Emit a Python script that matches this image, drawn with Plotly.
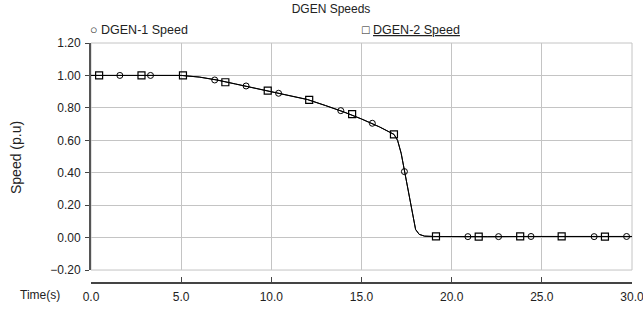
import plotly.graph_objects as go

# Continuous curve (both generators follow nearly the same trajectory)
t_curve = [0.0, 5.0, 6.0, 7.0, 8.0, 9.0, 10.0, 11.0, 12.0, 13.0, 14.0, 15.0, 16.0, 16.8,
           17.0, 17.2, 17.4, 17.6, 17.8, 18.0, 18.2, 18.5, 19.0, 20.0, 22.0, 24.0, 26.0, 28.0, 30.0]
dgen1_curve = [1.0, 1.0, 0.99, 0.972, 0.948, 0.925, 0.9, 0.875, 0.852, 0.815, 0.776, 0.732, 0.683, 0.637,
               0.6, 0.52, 0.40, 0.29, 0.15, 0.05, 0.02, 0.009, 0.007, 0.006, 0.006, 0.007, 0.006, 0.006, 0.007]
dgen2_curve = [1.0, 1.0, 0.99, 0.971, 0.947, 0.924, 0.9, 0.874, 0.851, 0.814, 0.775, 0.731, 0.682, 0.636,
               0.6, 0.52, 0.40, 0.29, 0.15, 0.05, 0.02, 0.009, 0.007, 0.006, 0.006, 0.007, 0.006, 0.006, 0.007]

# Marker positions
t1_marks = [1.6, 3.3, 6.86, 8.6, 10.4, 13.85, 15.6, 17.38, 20.9, 22.6, 24.4, 27.9, 29.7]
dgen1_marks = [1.0, 1.0, 0.972, 0.935, 0.89, 0.783, 0.705, 0.407, 0.006, 0.006, 0.007, 0.006, 0.007]
t2_marks = [0.45, 2.8, 5.1, 7.45, 9.8, 12.1, 14.48, 16.8, 19.13, 21.5, 23.8, 26.1, 28.5]
dgen2_marks = [1.0, 1.0, 1.0, 0.958, 0.906, 0.849, 0.762, 0.637, 0.008, 0.006, 0.008, 0.007, 0.006]

x_ticks = [0, 5, 10, 15, 20, 25, 30]
y_ticks = [-0.2, 0.0, 0.2, 0.4, 0.6, 0.8, 1.0, 1.2]

FONT = "Liberation Sans, Arial, sans-serif"

fig = go.Figure()
fig.add_trace(go.Scatter(x=t_curve, y=dgen1_curve, mode="lines",
                         line=dict(color="black", width=1), showlegend=False, hoverinfo="skip"))
fig.add_trace(go.Scatter(x=t_curve, y=dgen2_curve, mode="lines",
                         line=dict(color="black", width=1), showlegend=False, hoverinfo="skip"))
fig.add_trace(go.Scatter(x=t1_marks, y=dgen1_marks, mode="markers", name="DGEN-1 Speed",
                         marker=dict(symbol="circle-open", size=6, color="black", line=dict(width=1)),
                         showlegend=False))
fig.add_trace(go.Scatter(x=t2_marks, y=dgen2_marks, mode="markers", name="DGEN-2 Speed",
                         marker=dict(symbol="square-open", size=7, color="black", line=dict(width=1.2)),
                         showlegend=False))

W, H = 643, 312
L, R, T, B = 91, 11, 43, 29
pw, ph = W - L - R, H - T - B

def px_x(px):
    return (px - L) / pw

def px_y(py):
    return (H - B - py) / ph

fig.update_layout(
    width=W, height=H,
    margin=dict(l=L, r=R, t=T, b=B, autoexpand=False),
    paper_bgcolor="white", plot_bgcolor="white",
    font=dict(family=FONT, size=12, color="#222"),
    title=dict(text="DGEN Speeds", x=(331) / W, xanchor="center", y=1 - 9 / H, yanchor="middle",
               font=dict(family=FONT, size=12, color="#222")),
    xaxis=dict(range=[0, 30], tickvals=x_ticks, tickformat=".1f",
               anchor="free", position=0, automargin=False,
               showgrid=True, gridcolor="#c4c4c4", gridwidth=1,
               showline=True, linecolor="#444", linewidth=2,
               ticks="inside", ticklen=5, tickcolor="#444", tickwidth=1,
               ticklabelstandoff=3, ticklabeloverflow="allow",
               zeroline=False, tickfont=dict(family=FONT, size=12, color="#222")),
    yaxis=dict(range=[-0.2, 1.2], tickvals=y_ticks, tickformat=".2f",
               domain=[0.054, 1], automargin=False,
               showgrid=True, gridcolor="#c4c4c4", gridwidth=1,
               showline=True, linecolor="#555", linewidth=2,
               ticks="outside", ticklen=4, tickcolor="#444",
               ticklabelstandoff=2,
               zeroline=False, tickfont=dict(family=FONT, size=12, color="#222")),
    annotations=[
        dict(text="○ DGEN-1 Speed", x=px_x(88), y=px_y(30), xref="paper", yref="paper", showarrow=False,
             xanchor="left", yanchor="middle", font=dict(family=FONT, size=12.5, color="#222")),
        dict(text="□ <u>DGEN-2 Speed</u>", x=px_x(360), y=px_y(30), xref="paper", yref="paper",
             showarrow=False, xanchor="left", yanchor="middle",
             font=dict(family=FONT, size=12.5, color="#222")),
        dict(text="Time(s)", x=px_x(40), y=px_y(295), xref="paper", yref="paper", showarrow=False,
             xanchor="center", yanchor="middle", font=dict(family=FONT, size=12, color="#222")),
        dict(text="Speed (p.u)", x=px_x(16), y=px_y(158), xref="paper", yref="paper", showarrow=False,
             textangle=-90, xanchor="center", yanchor="middle",
             font=dict(family=FONT, size=14, color="#222")),
    ],
    shapes=[dict(type="rect", xref="x domain", yref="y domain", x0=0, x1=1, y0=0, y1=1,
                 line=dict(color="#c4c4c4", width=1), layer="below")],
)

fig.write_html("out.html", config={"displayModeBar": False},
               post_script="document.body.style.margin='0';")
